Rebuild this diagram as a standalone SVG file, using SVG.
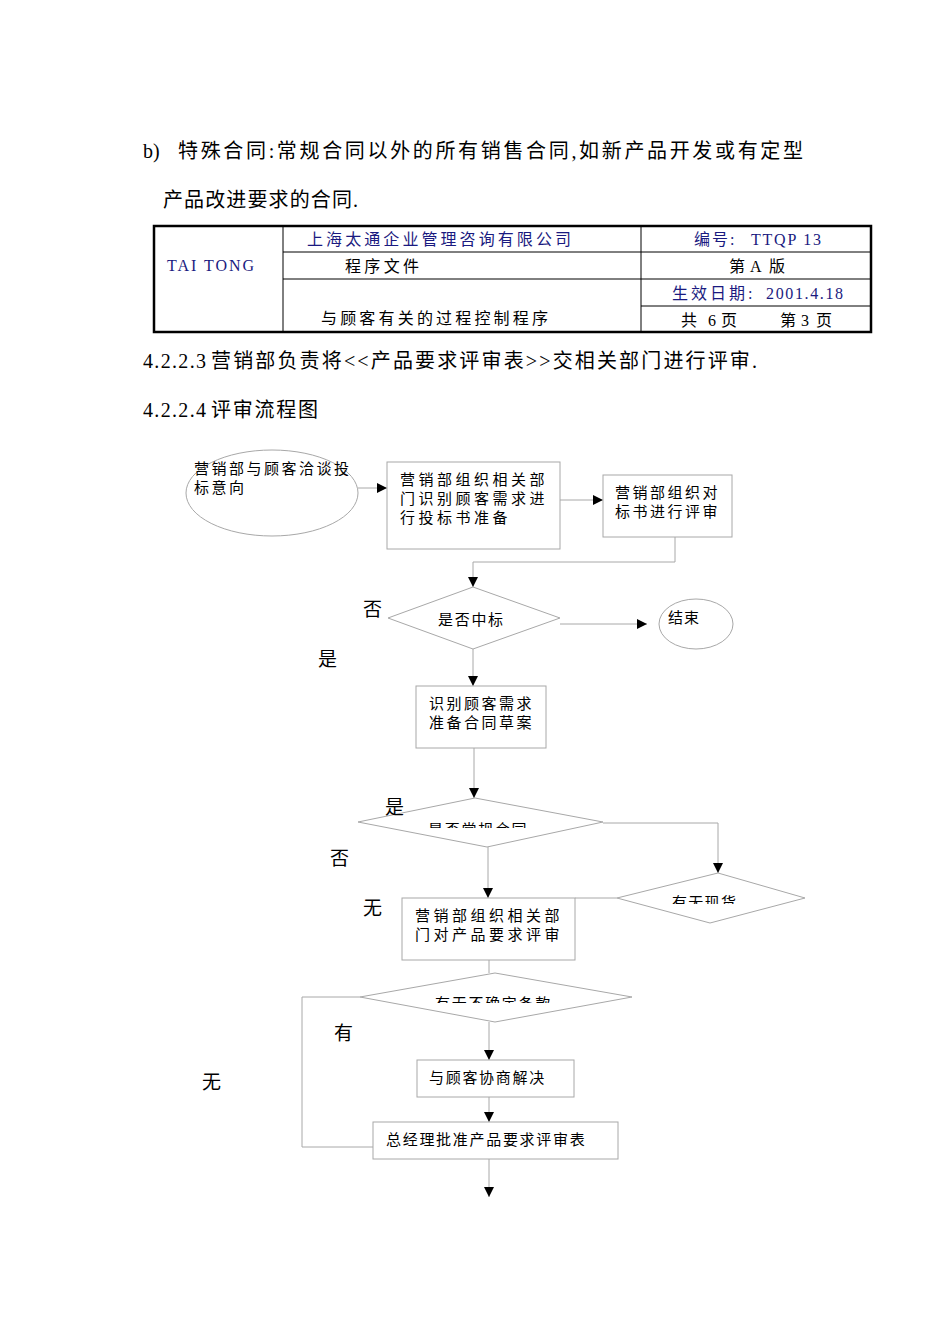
<svg xmlns="http://www.w3.org/2000/svg" width="950" height="1344" viewBox="0 0 950 1344">
<style>
.body{font-family:"Liberation Serif","Noto Sans CJK SC",serif;font-size:20px;fill:#000}
.tb{font-family:"Liberation Serif","Noto Sans CJK SC",serif;font-size:16px;fill:#000}
.blue{fill:#1a1a80}
.fc{font-family:"Liberation Sans","Noto Sans CJK SC",sans-serif;font-size:15px;fill:#000}
.lbl{font-family:"Liberation Serif","Noto Sans CJK SC",serif;font-size:19px;fill:#000}
.shape{fill:#fff;stroke:#a8a8a8;stroke-width:1}
.ln{fill:none;stroke:#a8a8a8;stroke-width:1}
.tl{stroke:#000;stroke-width:1;fill:none}
</style>
<defs>
<marker id="ah" viewBox="0 0 10 10" refX="10" refY="5" markerWidth="10" markerHeight="10" markerUnits="userSpaceOnUse" orient="auto">
<path d="M0,0 L10,5 L0,10 Z" fill="#000"/>
</marker>
<clipPath id="c2"><rect x="400" y="810" width="160" height="18"/></clipPath>
<clipPath id="c3"><rect x="650" y="885" width="110" height="19"/></clipPath>
<clipPath id="c4"><rect x="420" y="985" width="160" height="18"/></clipPath>
</defs>
<rect width="950" height="1344" fill="#fff"/>

<g id="paragraphs">
<text class="body" x="143" y="158">b)</text>
<text class="body" x="178" y="158" textLength="625" lengthAdjust="spacing">特殊合同:常规合同以外的所有销售合同,如新产品开发或有定型</text>
<text class="body" x="163" y="207" textLength="195" lengthAdjust="spacing">产品改进要求的合同.</text>
<text class="body" x="143" y="368" font-size="21" textLength="63" lengthAdjust="spacing">4.2.2.3</text>
<text class="body" x="211" y="368" textLength="546" lengthAdjust="spacing">营销部负责将&lt;&lt;产品要求评审表&gt;&gt;交相关部门进行评审.</text>
<text class="body" x="143" y="417" font-size="21" textLength="63" lengthAdjust="spacing">4.2.2.4</text>
<text class="body" x="211" y="417" textLength="107" lengthAdjust="spacing">评审流程图</text>
</g>

<g id="header-table">
<rect x="154" y="226" width="717" height="106" fill="none" stroke="#000" stroke-width="2.5"/>
<line class="tl" x1="283" y1="226" x2="283" y2="332"/>
<line class="tl" x1="641" y1="226" x2="641" y2="332"/>
<line class="tl" x1="283" y1="252" x2="871" y2="252"/>
<line class="tl" x1="283" y1="279" x2="871" y2="279"/>
<line class="tl" x1="641" y1="306" x2="871" y2="306"/>
<text class="tb blue" x="167" y="271" font-size="19" textLength="87" lengthAdjust="spacing">TAI TONG</text>
<text class="tb blue" x="307" y="245" textLength="264" lengthAdjust="spacing">上海太通企业管理咨询有限公司</text>
<text class="tb blue" x="694" y="245" letter-spacing="2">编号:</text>
<text class="tb blue" x="751" y="245" font-size="18" textLength="70" lengthAdjust="spacing">TTQP 13</text>
<text class="tb" x="345" y="272" textLength="74" lengthAdjust="spacing">程序文件</text>
<text class="tb" x="729" y="272">第</text>
<text class="tb" x="750" y="272" font-size="18">A</text>
<text class="tb" x="769" y="272">版</text>
<text class="tb blue" x="672" y="299" letter-spacing="3">生效日期:</text>
<text class="tb blue" x="766" y="299" font-size="18" textLength="77" lengthAdjust="spacing">2001.4.18</text>
<text class="tb" x="321" y="324" textLength="227" lengthAdjust="spacing">与顾客有关的过程控制程序</text>
<text class="tb" x="681" y="326">共</text>
<text class="tb" x="708" y="326" font-size="18">6</text>
<text class="tb" x="721" y="326">页</text>
<text class="tb" x="780" y="326">第</text>
<text class="tb" x="801" y="326" font-size="18">3</text>
<text class="tb" x="816" y="326">页</text>
</g>

<g id="connectors">
<line class="ln" x1="358" y1="488" x2="387" y2="488" marker-end="url(#ah)"/>
<line class="ln" x1="560" y1="500" x2="603" y2="500" marker-end="url(#ah)"/>
<polyline class="ln" points="675,537 675,562 473,562 473,587" marker-end="url(#ah)"/>
<line class="ln" x1="560" y1="624" x2="647" y2="624" marker-end="url(#ah)"/>
<line class="ln" x1="473" y1="649" x2="473" y2="686" marker-end="url(#ah)"/>
<line class="ln" x1="474" y1="748" x2="474" y2="798" marker-end="url(#ah)"/>
<polyline class="ln" points="603,823 718,823 718,873" marker-end="url(#ah)"/>
<line class="ln" x1="488" y1="846" x2="488" y2="898" marker-end="url(#ah)"/>
<line class="ln" x1="575" y1="898" x2="617" y2="898"/>
<line class="ln" x1="489" y1="960" x2="489" y2="973"/>
<polyline class="ln" points="360,997 302,997 302,1147 373,1147"/>
<line class="ln" x1="489" y1="1022" x2="489" y2="1060" marker-end="url(#ah)"/>
<line class="ln" x1="489" y1="1097" x2="489" y2="1122" marker-end="url(#ah)"/>
<line class="ln" x1="489" y1="1159" x2="489" y2="1197" marker-end="url(#ah)"/>
</g>

<g id="start">
<ellipse class="shape" cx="272" cy="493" rx="86" ry="43"/>
<text class="fc" x="194" y="474" letter-spacing="2.5">营销部与顾客洽谈投</text>
<text class="fc" x="194" y="493" letter-spacing="2.5">标意向</text>
</g>

<g id="prepare-bid">
<rect class="shape" x="387" y="462" width="173" height="87"/>
<text class="fc" x="400" y="485" letter-spacing="3.5">营销部组织相关部</text>
<text class="fc" x="400" y="504" letter-spacing="3.5">门识别顾客需求进</text>
<text class="fc" x="400" y="523" letter-spacing="3.5">行投标书准备</text>
</g>

<g id="review-bid">
<rect class="shape" x="603" y="475" width="129" height="62"/>
<text class="fc" x="615" y="498" letter-spacing="2.5">营销部组织对</text>
<text class="fc" x="615" y="517" letter-spacing="2.5">标书进行评审</text>
</g>

<g id="won-bid">
<polygon class="shape" points="473,587 560,618 473,649 388,618"/>
<text class="fc" x="438" y="625" letter-spacing="1.7">是否中标</text>
</g>

<g id="end">
<ellipse class="shape" cx="696" cy="624" rx="37" ry="25"/>
<text class="fc" x="668" y="623" letter-spacing="1">结束</text>
</g>

<g id="draft-contract">
<rect class="shape" x="416" y="686" width="130" height="62"/>
<text class="fc" x="429" y="709" letter-spacing="2.5">识别顾客需求</text>
<text class="fc" x="429" y="728" letter-spacing="2.5">准备合同草案</text>
</g>

<g id="regular-contract">
<polygon class="shape" points="475,798 603,822 487,847 358,822"/>
<text class="fc" x="428" y="834.5" letter-spacing="1.7" clip-path="url(#c2)">是否常规合同</text>
</g>

<g id="in-stock">
<polygon class="shape" points="718,873 805,898 710,923 617,898"/>
<text class="fc" x="672" y="907.5" letter-spacing="1.3" clip-path="url(#c3)">有无现货</text>
</g>

<g id="dept-review">
<rect class="shape" x="402" y="898" width="173" height="62"/>
<text class="fc" x="415" y="921" letter-spacing="3.5">营销部组织相关部</text>
<text class="fc" x="415" y="940" letter-spacing="3.5">门对产品要求评审</text>
</g>

<g id="uncertain-terms">
<polygon class="shape" points="495,973 632,997 495,1022 360,997"/>
<text class="fc" x="435" y="1008.5" letter-spacing="1.7" clip-path="url(#c4)">有无不确定条款</text>
</g>

<g id="negotiate">
<rect class="shape" x="417" y="1060" width="157" height="37"/>
<text class="fc" x="429" y="1083" letter-spacing="1.7">与顾客协商解决</text>
</g>

<g id="gm-approve">
<rect class="shape" x="373" y="1122" width="245" height="37"/>
<text class="fc" x="386" y="1145" letter-spacing="1.7">总经理批准产品要求评审表</text>
</g>

<g id="branch-labels">
<text class="lbl" x="363" y="616">否</text>
<text class="lbl" x="318" y="666">是</text>
<text class="lbl" x="385" y="814" font-size="16">是</text>
<text class="lbl" x="330" y="865">否</text>
<text class="lbl" x="363" y="915">无</text>
<text class="lbl" x="334" y="1040">有</text>
<text class="lbl" x="202" y="1089">无</text>
</g>
</svg>
